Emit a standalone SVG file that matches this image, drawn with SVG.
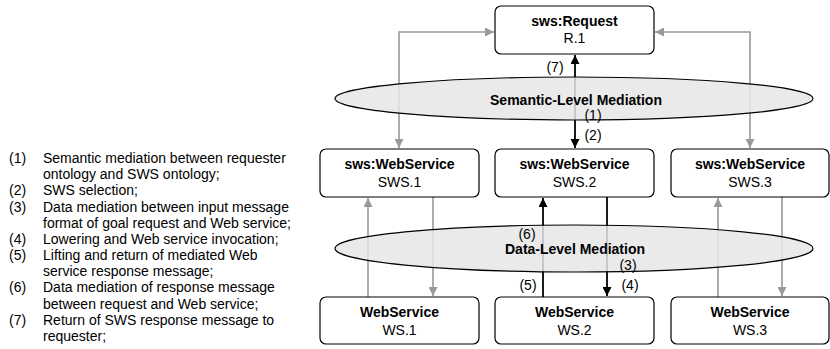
<svg xmlns="http://www.w3.org/2000/svg" width="830" height="349" viewBox="0 0 830 349">
<style>
text{font-family:"Liberation Sans",Arial,sans-serif;font-size:14px;fill:#000}
.b{font-weight:bold}
.m{text-anchor:middle}
.box{fill:#fff;stroke:#000;stroke-width:1.2}
.ell{fill:#e6e6e6;fill-opacity:0.85;stroke:#000;stroke-width:1.2}
.g{fill:none;stroke:#999;stroke-width:1.6}
.k{fill:none;stroke:#000;stroke-width:1.8}
</style>
<defs>
<marker id="ag" viewBox="0 0 10 10" refX="10" refY="5" markerWidth="9" markerHeight="9" markerUnits="userSpaceOnUse" orient="auto-start-reverse"><path d="M0,0 L10,5 L0,10 z" fill="#999"/></marker>
<marker id="ak" viewBox="0 0 10 10" refX="10" refY="5" markerWidth="9" markerHeight="9" markerUnits="userSpaceOnUse" orient="auto-start-reverse"><path d="M0,0 L10,5 L0,10 z" fill="#000"/></marker>
</defs>
<g id="legend">
<text x="9" y="163">(1)</text><text x="43" y="163">Semantic mediation between requester</text>
<text x="43" y="179">ontology and SWS ontology;</text>
<text x="9" y="195">(2)</text><text x="43" y="195">SWS selection;</text>
<text x="9" y="212">(3)</text><text x="43" y="212">Data mediation between input message</text>
<text x="43" y="228">format of goal request and Web service;</text>
<text x="9" y="244">(4)</text><text x="43" y="244">Lowering and Web service invocation;</text>
<text x="9" y="260">(5)</text><text x="43" y="260">Lifting and return of mediated Web</text>
<text x="43" y="276">service response message;</text>
<text x="9" y="292">(6)</text><text x="43" y="292">Data mediation of response message</text>
<text x="43" y="309">between request and Web service;</text>
<text x="9" y="325">(7)</text><text x="43" y="325">Return of SWS response message to</text>
<text x="43" y="341">requester;</text>
</g>
<g id="connectors">
<path class="g" d="M399,148 V32 H494" marker-start="url(#ag)" marker-end="url(#ag)"/>
<path class="g" d="M750,148 V32 H655" marker-start="url(#ag)" marker-end="url(#ag)"/>
<path class="k" d="M575,55 V148" marker-start="url(#ak)" marker-end="url(#ak)"/>
<path class="g" d="M368,297 V198" marker-end="url(#ag)"/>
<path class="g" d="M433,197 V296" marker-end="url(#ag)"/>
<path class="k" d="M543,297 V198" marker-end="url(#ak)"/>
<path class="k" d="M607,197 V296" marker-end="url(#ak)"/>
<path class="g" d="M718,297 V198" marker-end="url(#ag)"/>
<path class="g" d="M782,197 V296" marker-end="url(#ag)"/>
</g>
<g id="semantic-mediation">
<ellipse class="ell" cx="574" cy="98.5" rx="239" ry="21.5"/>
<text class="b m" x="576" y="105">Semantic-Level Mediation</text>
</g>
<g id="data-mediation">
<ellipse class="ell" cx="574" cy="248.5" rx="239" ry="23.5"/>
<text class="b m" x="575" y="254">Data-Level Mediation</text>
</g>
<g id="labels">
<text class="m" x="555" y="72">(7)</text>
<text class="m" x="593" y="120">(1)</text>
<text class="m" x="593" y="140">(2)</text>
<text class="m" x="527" y="239">(6)</text>
<text class="m" x="628" y="270">(3)</text>
<text class="m" x="528" y="290">(5)</text>
<text class="m" x="630" y="290">(4)</text>
</g>
<g id="request"><rect class="box" x="495" y="6" width="159" height="48" rx="6"/><text class="b m" x="574.5" y="26">sws:Request</text><text class="m" x="574.5" y="43">R.1</text></g>
<g id="sws1"><rect class="box" x="320" y="149" width="159" height="48" rx="6"/><text class="b m" x="399.5" y="169">sws:WebService</text><text class="m" x="399.5" y="187">SWS.1</text></g>
<g id="sws2"><rect class="box" x="495" y="149" width="159" height="48" rx="6"/><text class="b m" x="574.5" y="169">sws:WebService</text><text class="m" x="574.5" y="187">SWS.2</text></g>
<g id="sws3"><rect class="box" x="671" y="149" width="158" height="48" rx="6"/><text class="b m" x="750" y="169">sws:WebService</text><text class="m" x="750" y="187">SWS.3</text></g>
<g id="ws1"><rect class="box" x="320" y="297" width="159" height="47" rx="6"/><text class="b m" x="399.5" y="317">WebService</text><text class="m" x="399.5" y="335">WS.1</text></g>
<g id="ws2"><rect class="box" x="495" y="297" width="159" height="47" rx="6"/><text class="b m" x="574.5" y="317">WebService</text><text class="m" x="574.5" y="335">WS.2</text></g>
<g id="ws3"><rect class="box" x="671" y="297" width="158" height="47" rx="6"/><text class="b m" x="750" y="317">WebService</text><text class="m" x="750" y="335">WS.3</text></g>
</svg>
